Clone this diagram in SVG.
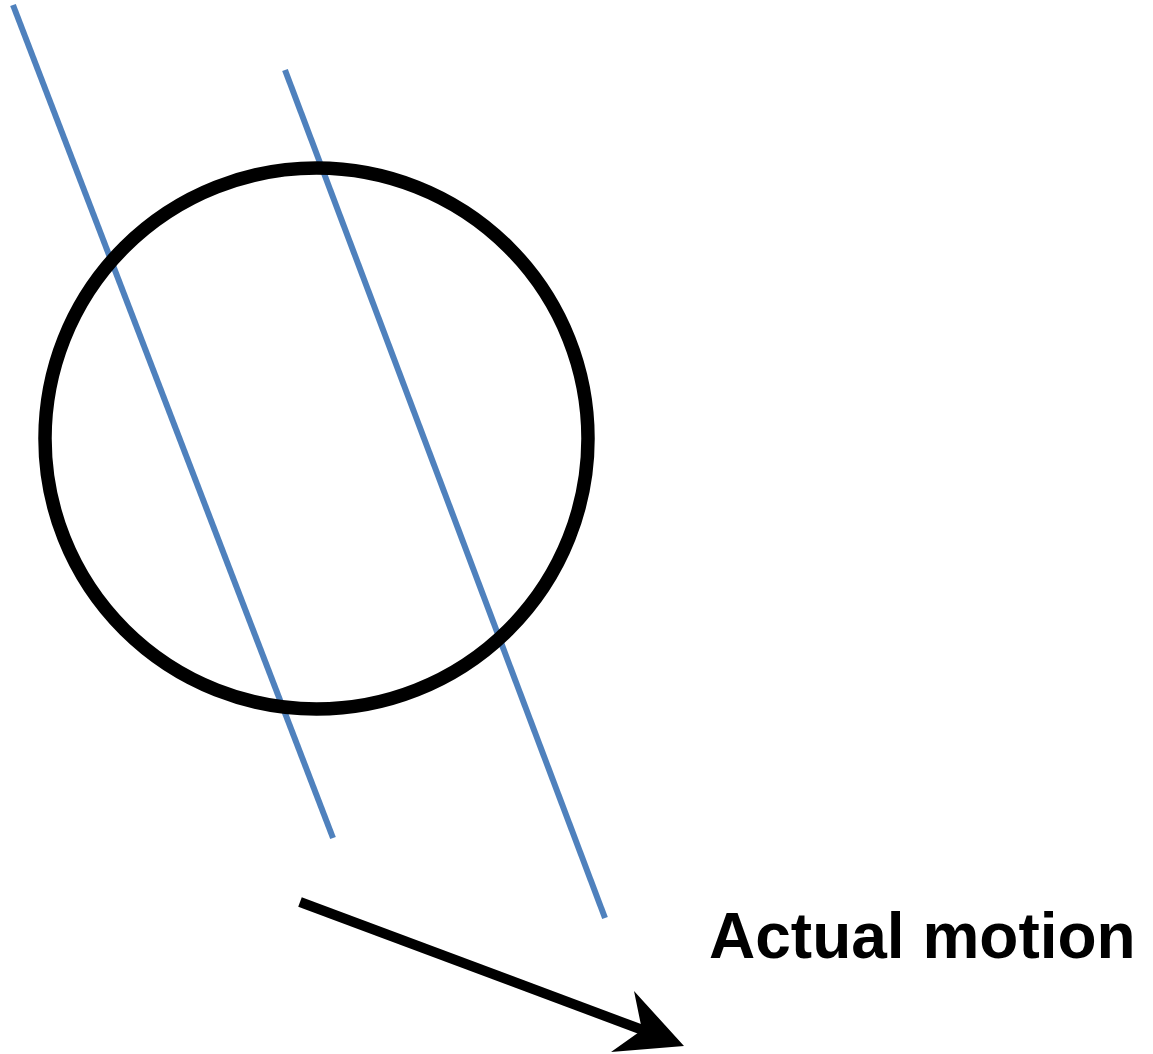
<svg xmlns="http://www.w3.org/2000/svg" width="1153" height="1054" viewBox="0 0 1153 1054">
  <style>
    .guide { stroke: #4F81BD; stroke-width: 6; fill: none; }
    .ring { stroke: #000; stroke-width: 13.5; fill: none; }
    .shaft { stroke: #000; stroke-width: 10; fill: none; }
    .label { font-family: "Liberation Sans", Arial, sans-serif; font-weight: bold; font-size: 64px; fill: #000; }
  </style>
  <rect width="1153" height="1054" fill="#fff"/>
  <g id="guides">
    <line class="guide" x1="13" y1="5" x2="333" y2="838"/>
    <line class="guide" x1="285" y1="70" x2="605" y2="918"/>
  </g>
  <g id="circle">
    <ellipse class="ring" cx="316.5" cy="438.5" rx="271.5" ry="270.5"/>
  </g>
  <g id="connectors">
    <line class="shaft" x1="300" y1="902" x2="648" y2="1032"/>
    <polygon points="684,1046 634,991 642,1030 611,1052" fill="#000"/>
  </g>
  <g id="label">
    <text class="label" x="709" y="958">Actual motion</text>
  </g>
</svg>
